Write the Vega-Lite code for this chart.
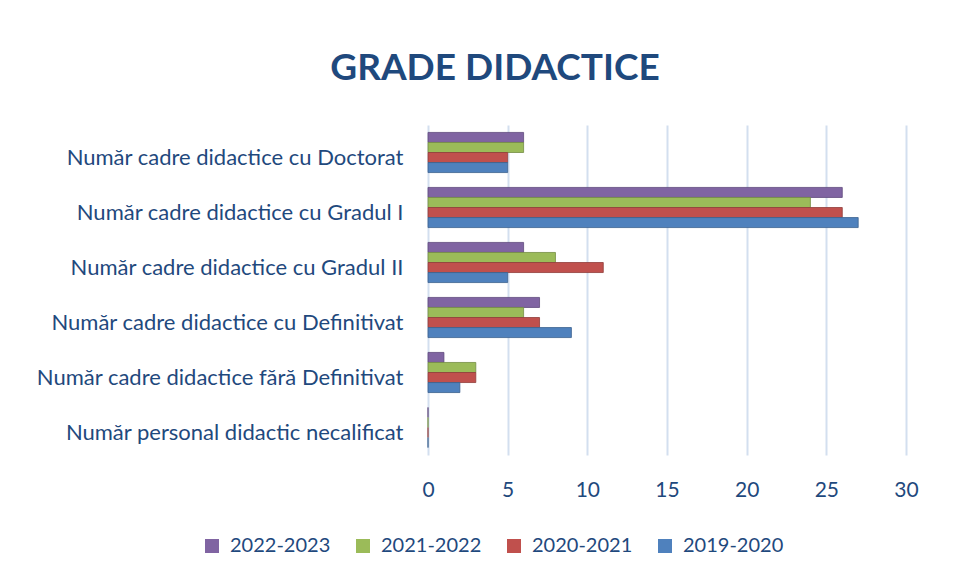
{
  "$schema": "https://vega.github.io/schema/vega-lite/v6.json",
  "width": 478,
  "height": 330,
  "autosize": {"type": "none"},
  "padding": {"left": 428, "top": 125, "right": 48, "bottom": 124},
  "background": "white",
  "title": {
    "text": "GRADE DIDACTICE",
    "font": "Lato",
    "fontSize": 37,
    "fontWeight": "bold",
    "color": "#1F497D",
    "anchor": "middle",
    "frame": "group",
    "dx": -172,
    "offset": 37
  },
  "data": {
    "values": [
      {"cat": "Număr cadre didactice cu Doctorat", "year": "2022-2023", "value": 6},
      {"cat": "Număr cadre didactice cu Doctorat", "year": "2021-2022", "value": 6},
      {"cat": "Număr cadre didactice cu Doctorat", "year": "2020-2021", "value": 5},
      {"cat": "Număr cadre didactice cu Doctorat", "year": "2019-2020", "value": 5},
      {"cat": "Număr cadre didactice cu Gradul I", "year": "2022-2023", "value": 26},
      {"cat": "Număr cadre didactice cu Gradul I", "year": "2021-2022", "value": 24},
      {"cat": "Număr cadre didactice cu Gradul I", "year": "2020-2021", "value": 26},
      {"cat": "Număr cadre didactice cu Gradul I", "year": "2019-2020", "value": 27},
      {"cat": "Număr cadre didactice cu Gradul II", "year": "2022-2023", "value": 6},
      {"cat": "Număr cadre didactice cu Gradul II", "year": "2021-2022", "value": 8},
      {"cat": "Număr cadre didactice cu Gradul II", "year": "2020-2021", "value": 11},
      {"cat": "Număr cadre didactice cu Gradul II", "year": "2019-2020", "value": 5},
      {"cat": "Număr cadre didactice cu Definitivat", "year": "2022-2023", "value": 7},
      {"cat": "Număr cadre didactice cu Definitivat", "year": "2021-2022", "value": 6},
      {"cat": "Număr cadre didactice cu Definitivat", "year": "2020-2021", "value": 7},
      {"cat": "Număr cadre didactice cu Definitivat", "year": "2019-2020", "value": 9},
      {"cat": "Număr cadre didactice fără Definitivat", "year": "2022-2023", "value": 1},
      {"cat": "Număr cadre didactice fără Definitivat", "year": "2021-2022", "value": 3},
      {"cat": "Număr cadre didactice fără Definitivat", "year": "2020-2021", "value": 3},
      {"cat": "Număr cadre didactice fără Definitivat", "year": "2019-2020", "value": 2},
      {"cat": "Număr personal didactic necalificat", "year": "2022-2023", "value": 0},
      {"cat": "Număr personal didactic necalificat", "year": "2021-2022", "value": 0},
      {"cat": "Număr personal didactic necalificat", "year": "2020-2021", "value": 0},
      {"cat": "Număr personal didactic necalificat", "year": "2019-2020", "value": 0}
    ]
  },
  "mark": {"type": "bar", "strokeWidth": 0.8},
  "encoding": {
    "y": {
      "field": "cat",
      "type": "nominal",
      "sort": null,
      "title": null,
      "scale": {"paddingInner": 0.27, "paddingOuter": 0.135},
      "axis": {
        "domain": false,
        "ticks": false,
        "labelFont": "Lato",
        "labelFontSize": 22,
        "labelColor": "#1F497D",
        "labelPadding": 25,
        "labelLimit": 500,
        "labelOffset": 5
      }
    },
    "yOffset": {
      "field": "year",
      "type": "nominal",
      "sort": ["2022-2023", "2021-2022", "2020-2021", "2019-2020"],
      "scale": {"paddingInner": 0, "paddingOuter": 0}
    },
    "x": {
      "field": "value",
      "type": "quantitative",
      "title": null,
      "scale": {"domain": [0, 30], "nice": false},
      "axis": {
        "values": [0, 5, 10, 15, 20, 25, 30],
        "domain": false,
        "ticks": false,
        "grid": true,
        "gridColor": "#D3DFEF",
        "gridWidth": 2,
        "labelFlush": false,
        "labelFont": "Lato",
        "labelFontSize": 21,
        "labelColor": "#1F497D",
        "labelPadding": 24
      }
    },
    "color": {
      "field": "year",
      "type": "nominal",
      "scale": {
        "domain": ["2022-2023", "2021-2022", "2020-2021", "2019-2020"],
        "range": ["#8064A2", "#9BBB59", "#C0504D", "#4F81BD"]
      },
      "legend": {
        "title": null,
        "orient": "none",
        "direction": "horizontal",
        "legendX": -226,
        "legendY": 411,
        "symbolType": "square",
        "symbolSize": 196,
        "symbolStrokeWidth": 0,
        "labelFont": "Lato",
        "labelFontSize": 20,
        "labelColor": "#1F497D",
        "labelOffset": 8,
        "columnPadding": 22
      }
    },
    "stroke": {
      "field": "year",
      "type": "nominal",
      "scale": {
        "domain": ["2022-2023", "2021-2022", "2020-2021", "2019-2020"],
        "range": ["#5F4A7C", "#748D42", "#913C3A", "#3B618E"]
      },
      "legend": null
    }
  },
  "config": {"view": {"stroke": null}}
}
